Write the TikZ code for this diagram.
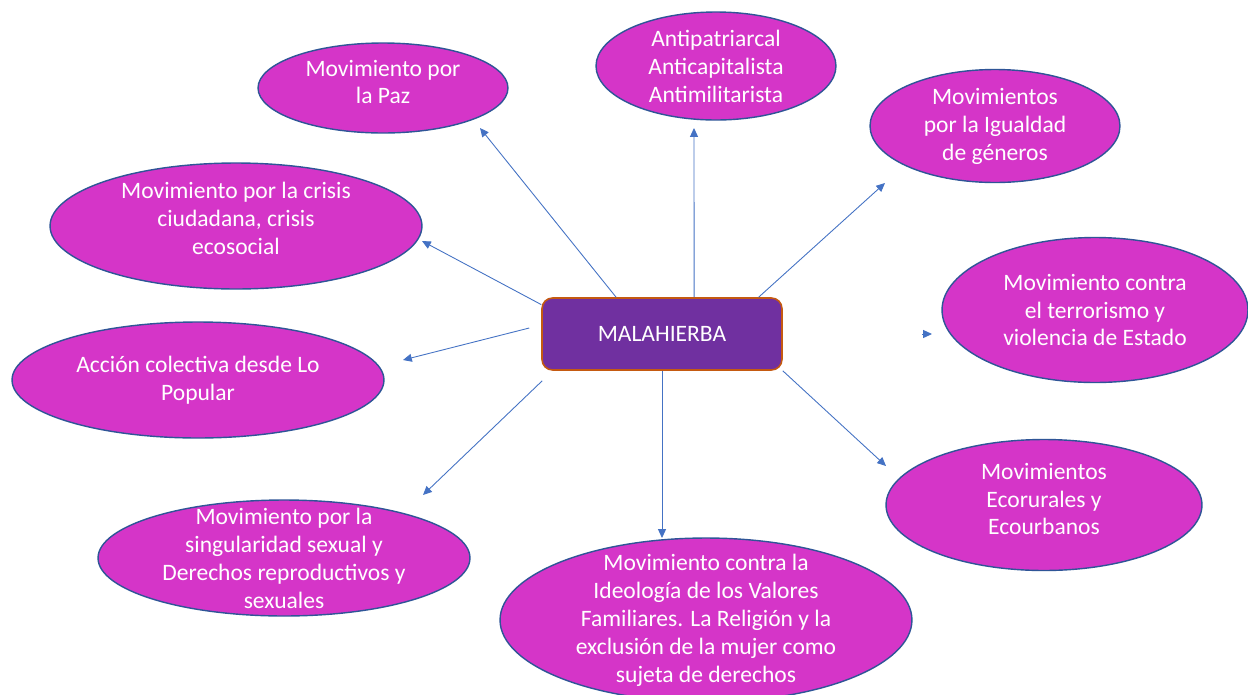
\documentclass[tikz,border=0pt]{standalone}
\usepackage{fontspec}
\setmainfont{Carlito}
\usepackage{tikz}
\usetikzlibrary{shapes.geometric,arrows.meta,calc}
\newcommand{\movfont}{\fontsize{13.4}{15.9}\selectfont}
\newcommand{\definitions}{%
  % color of the movement bubbles
  \definecolor{colMov}{HTML}{D535C8}
  % color of the bubble outlines
  \definecolor{colMovLine}{HTML}{2F5597}
  % color of the central box and its border
  \definecolor{colCore}{HTML}{7030A0}
  \definecolor{colCoreLine}{HTML}{C55A11}
  % color of the arrows
  \definecolor{colArrow}{HTML}{4472C4}

  % tips of the arrows
  \coordinate (tPaz) at (480, 128);
  \coordinate (tAnti) at (694, 128);
  \coordinate (tIgual) at (885, 183);
  \coordinate (tCrisis) at (422, 241);
  \coordinate (tAccion) at (403, 360);
  \coordinate (tTerror) at (932, 334);
  \coordinate (tEco) at (886, 466);
  \coordinate (tSing) at (423, 495);
  \coordinate (tIdeo) at (662, 538);
}

\begin{document}
\begin{tikzpicture}[x=0.02cm, y=-0.02cm,
  mov/.style={ellipse, draw=colMovLine, line width=0.8pt, fill=colMov, inner sep=0pt},
  movtext/.style={text=white, align=center, font=\movfont},
  core/.style={rectangle, rounded corners=6pt, draw=colCoreLine, line width=0.9pt,
    fill=colCore, text=white, font=\movfont, minimum width=4.8cm, minimum height=1.44cm},
  link/.style={draw=colArrow, line width=0.5pt, -{Triangle[length=5pt,width=4.5pt]}}]

  % define colors and arrow tips
  \definitions

  % page
  \fill[white] (0, 0) rectangle (1248, 694);
  \useasboundingbox (0, 0) rectangle (1248, 694);

  % bubbles for each movement
  \node[mov, minimum width=5cm, minimum height=1.8cm,
    label={[movtext, yshift=0.12cm]center:{Movimiento por\\la Paz}}] (paz) at (383, 88) {};
  \node[mov, minimum width=4.8cm, minimum height=2.16cm,
    label={[movtext]center:{Antipatriarcal\\Anticapitalista\\Antimilitarista}}] (anti) at (716, 66) {};
  \node[mov, minimum width=5cm, minimum height=2.26cm,
    label={[movtext]center:{Movimientos\\por la Igualdad\\de géneros}}] (igual) at (995, 126) {};
  \node[mov, minimum width=7.44cm, minimum height=2.52cm,
    label={[movtext, yshift=0.15cm]center:{Movimiento por la crisis\\ciudadana, crisis\\ecosocial}}] (crisis) at (236, 226) {};
  \node[mov, minimum width=6.12cm, minimum height=2.9cm,
    label={[movtext]center:{Movimiento contra\\el terrorismo y\\violencia de Estado}}] (terror) at (1095, 310) {};
  \node[mov, minimum width=7.44cm, minimum height=2.32cm,
    label={[movtext]center:{Acción colectiva desde Lo\\Popular}}] (accion) at (198, 380) {};
  \node[mov, minimum width=6.32cm, minimum height=2.62cm,
    label={[movtext, yshift=0.12cm]center:{Movimientos\\Ecorurales y\\Ecourbanos}}] (eco) at (1044, 505) {};
  \node[mov, minimum width=7.44cm, minimum height=2.32cm,
    label={[movtext]center:{Movimiento por la\\singularidad sexual y\\Derechos reproductivos y\\sexuales}}] (sing) at (284, 558) {};
  \node[mov, minimum width=8.24cm, minimum height=3.28cm,
    label={[movtext]center:{Movimiento contra la\\Ideología de los Valores\\Familiares. La Religión y la\\exclusión de la mujer como\\sujeta de derechos}}] (ideo) at (706, 620) {};

  % central box
  \node[core] (core) at (662, 334) {MALAHIERBA};

  % arrows from the box to the bubbles
  \draw[link] ($(core.north west)!.31!(core.north east)$) -- (tPaz);
  \draw[link] ($(core.north west)!.633!(core.north east)$) -- (tAnti);
  \draw[link] ($(core.north west)!.9!(core.north east)$) -- (tIgual);
  \draw[link] ($(core.north west)!.1!(core.south west)$) -- (tCrisis);
  \draw[link] ($(core.west)+(-12, -6)$) -- (tAccion);
  \draw[link] ($(tTerror)+(-10, 0)$) -- (tTerror);
  \draw[link] (core.south east) -- (tEco);
  \draw[link] ($(core.south west)+(1, 10)$) -- (tSing);
  \draw[link] (core.south) -- (tIdeo);

\end{tikzpicture}
\end{document}
